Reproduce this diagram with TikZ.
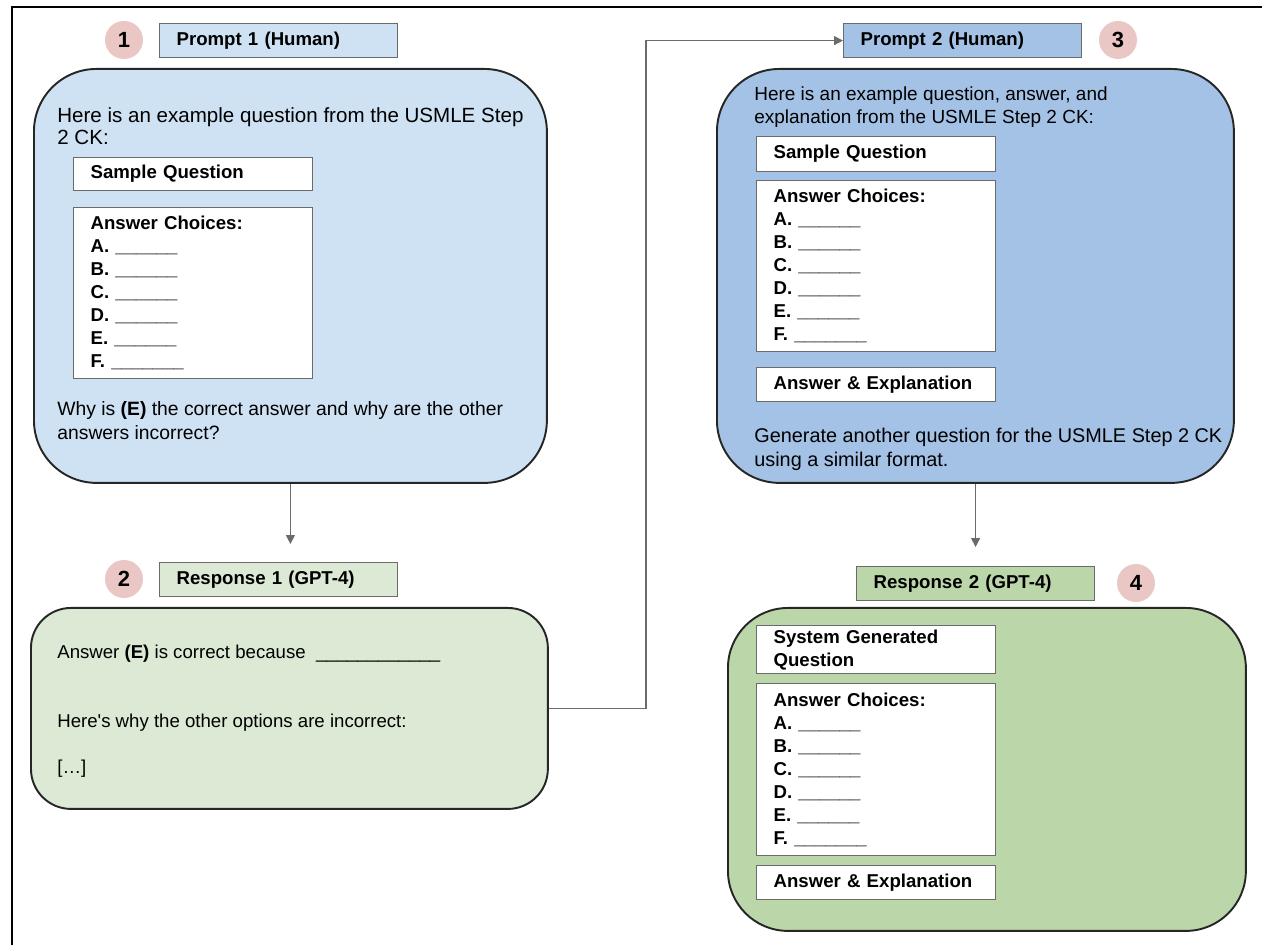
\documentclass[tikz,border=0pt]{standalone}
\usepackage{fontspec}
\setmainfont{Liberation Sans}
\usetikzlibrary{arrows.meta}

\definecolor{promptone}{HTML}{CFE2F3}
\definecolor{prompttwo}{HTML}{A4C2E5}
\definecolor{respone}{HTML}{DBE9D5}
\definecolor{resptwo}{HTML}{BBD7AA}
\definecolor{numpink}{HTML}{EAC6C4}
\definecolor{edgegray}{HTML}{6B6B6B}

\newcommand{\figfont}{\fontsize{10.6pt}{13.1pt}\selectfont}

\tikzset{
  bigbox/.style={draw=black!85,line width=1.1pt,anchor=north west,inner sep=0pt},
  headbox/.style={draw=edgegray,line width=0.7pt,anchor=north west,minimum height=0.68cm,
    text width=4.08cm,inner xsep=0.34cm,inner ysep=0pt,align=left,font=\figfont\bfseries},
  qbox/.style={draw=edgegray,fill=white,line width=0.7pt,anchor=north west,
    text width=4.1cm,inner xsep=0.34cm,inner ysep=0pt,align=left,font=\figfont\bfseries},
  numdot/.style={circle,fill=numpink,minimum size=0.76cm,inner sep=0pt,
    font=\fontsize{12.5pt}{14pt}\selectfont\bfseries},
  plain/.style={anchor=north west,inner sep=0pt,align=left,font=\figfont},
  flow/.style={draw=edgegray,line width=0.8pt,-{Triangle[length=5pt,width=5pt]}}
}

\begin{document}
\begin{tikzpicture}[x=0.02cm,y=-0.02cm]
    \useasboundingbox (0,0) rectangle (1262,945);
    \draw[line width=1.5pt] (12,960) -- (12,7) -- (1275,7);

    % prompt 1
    \node[numdot] (n1) at (124,40) {1};
    \node[headbox,fill=promptone] (p1head) at (159,23) {Prompt 1 (Human)};
    \node[bigbox,fill=promptone,rounded corners=1.25cm,minimum width=10.26cm,minimum height=8.28cm] (p1box) at (33,68) {};
    \node[plain,font=\fontsize{11.7pt}{12.6pt}\selectfont] (p1intro) at (57,107) {Here is an example question from the USMLE Step\\2 CK:};
    \node[qbox,minimum height=0.66cm] (p1q) at (73,157) {Sample Question};
    \node[qbox,minimum height=3.42cm] (p1choices) at (73,207) {Answer Choices:\\A. \_\_\_\_\_\_\\B. \_\_\_\_\_\_\\C. \_\_\_\_\_\_\\D. \_\_\_\_\_\_\\E. \_\_\_\_\_\_\\F. \_\_\_\_\_\_\_};
    \node[plain,font=\fontsize{11pt}{13.9pt}\selectfont] (p1ask) at (57,401) {Why is \textbf{(E)} the correct answer and why are the other\\answers incorrect?};

    % response 1
    \node[numdot] (n2) at (124,579) {2};
    \node[headbox,fill=respone] (r1head) at (159,562) {Response 1 (GPT-4)};
    \node[bigbox,fill=respone,rounded corners=0.8cm,minimum width=10.34cm,minimum height=4.02cm] (r1box) at (30,607) {};
    \node[plain] (r1ans) at (57,645) {Answer \textbf{(E)} is correct because~ \_\_\_\_\_\_\_\_\_\_\_\_};
    \node[plain] (r1why) at (57,714) {Here\textquotesingle s why the other options are incorrect:};
    \node[plain] (r1more) at (57,760) {[…]};

    % prompt 2
    \node[headbox,fill=prompttwo] (p2head) at (843,23) {Prompt 2 (Human)};
    \node[numdot] (n3) at (1118,40) {3};
    \node[bigbox,fill=prompttwo,rounded corners=1.25cm,minimum width=10.34cm,minimum height=8.28cm] (p2box) at (716,68) {};
    \node[plain,font=\fontsize{10.8pt}{13.1pt}\selectfont] (p2intro) at (754,86) {Here is an example question, answer, and\\explanation from the USMLE Step 2 CK:};
    \node[qbox,minimum height=0.7cm] (p2q) at (756,136) {Sample Question};
    \node[qbox,minimum height=3.42cm] (p2choices) at (756,180) {Answer Choices:\\A. \_\_\_\_\_\_\\B. \_\_\_\_\_\_\\C. \_\_\_\_\_\_\\D. \_\_\_\_\_\_\\E. \_\_\_\_\_\_\\F. \_\_\_\_\_\_\_};
    \node[qbox,minimum height=0.68cm] (p2expl) at (756,367) {Answer \& Explanation};
    \node[plain,font=\fontsize{11.3pt}{13.6pt}\selectfont] (p2ask) at (754,428) {Generate another question for the USMLE Step 2 CK\\using a similar format.};

    % response 2
    \node[headbox,fill=resptwo] (r2head) at (856,566) {Response 2 (GPT-4)};
    \node[numdot] (n4) at (1136,583) {4};
    \node[bigbox,fill=resptwo,rounded corners=1.2cm,minimum width=10.36cm,minimum height=6.46cm] (r2box) at (727,607) {};
    \node[qbox,minimum height=0.96cm] (r2q) at (756,625) {System Generated\\Question};
    \node[qbox,minimum height=3.44cm] (r2choices) at (756,683) {Answer Choices:\\A. \_\_\_\_\_\_\\B. \_\_\_\_\_\_\\C. \_\_\_\_\_\_\\D. \_\_\_\_\_\_\\E. \_\_\_\_\_\_\\F. \_\_\_\_\_\_\_};
    \node[qbox,minimum height=0.68cm] (r2expl) at (756,865) {Answer \& Explanation};

    % arrows
    \coordinate (turn) at (646,40);
    \draw[flow,shorten >=0.36cm] (p1box.south) -- (p1box.south |- r1head.north);
    \draw[flow] (r1box.east) -- (r1box.east -| turn) |- (p2head.west);
    \draw[flow,shorten >=0.38cm] (p2box.south -| r2head.north) -- (r2head.north);
\end{tikzpicture}
\end{document}
